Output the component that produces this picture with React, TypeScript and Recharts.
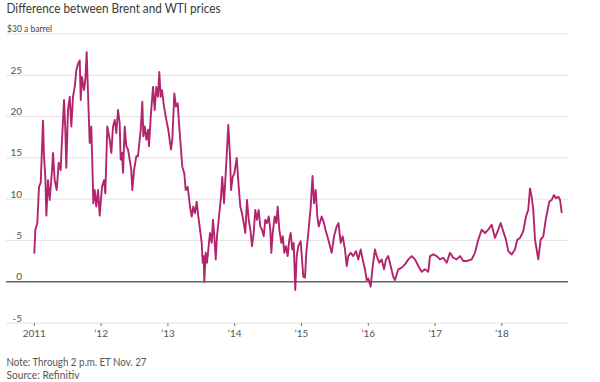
import React from "react";
import { LineChart, Line, XAxis, YAxis, CartesianGrid, ReferenceLine } from "recharts";

// decimal year of each reading
const years = [
  2011.0, 2011.015, 2011.045, 2011.07, 2011.096, 2011.13, 2011.145, 2011.165, 2011.18, 2011.205,
  2011.23, 2011.265, 2011.28, 2011.305, 2011.335, 2011.365, 2011.395, 2011.405, 2011.445, 2011.464,
  2011.479, 2011.504, 2011.53, 2011.554, 2011.579, 2011.605, 2011.629, 2011.654, 2011.68, 2011.695,
  2011.714, 2011.744, 2011.763, 2011.784, 2011.804, 2011.829, 2011.853, 2011.868, 2011.883, 2011.904,
  2011.928, 2011.954, 2011.979, 2012.013, 2012.043, 2012.063, 2012.093, 2012.129, 2012.153, 2012.178,
  2012.204, 2012.228, 2012.253, 2012.278, 2012.293, 2012.313, 2012.328, 2012.353, 2012.377, 2012.403,
  2012.428, 2012.452, 2012.467, 2012.493, 2012.527, 2012.552, 2012.593, 2012.617, 2012.632, 2012.653,
  2012.677, 2012.702, 2012.717, 2012.743, 2012.777, 2012.802, 2012.826, 2012.852, 2012.871, 2012.892,
  2012.912, 2012.942, 2012.976, 2013.006, 2013.046, 2013.066, 2013.096, 2013.121, 2013.147, 2013.166,
  2013.196, 2013.216, 2013.246, 2013.266, 2013.296, 2013.331, 2013.356, 2013.38, 2013.406, 2013.431,
  2013.455, 2013.481, 2013.506, 2013.521, 2013.536, 2013.545, 2013.566, 2013.585, 2013.605, 2013.63,
  2013.656, 2013.675, 2013.695, 2013.716, 2013.735, 2013.765, 2013.795, 2013.814, 2013.84, 2013.865,
  2013.885, 2013.904, 2013.93, 2013.945, 2013.97, 2013.994, 2014.03, 2014.06, 2014.084, 2014.109,
  2014.135, 2014.159, 2014.184, 2014.21, 2014.234, 2014.259, 2014.284, 2014.308, 2014.334, 2014.359,
  2014.383, 2014.409, 2014.434, 2014.458, 2014.484, 2014.509, 2014.533, 2014.548, 2014.569, 2014.599,
  2014.623, 2014.644, 2014.668, 2014.698, 2014.719, 2014.743, 2014.768, 2014.793, 2014.817, 2014.838,
  2014.862, 2014.883, 2014.907, 2014.928, 2014.952, 2014.988, 2015.027, 2015.052, 2015.072, 2015.102,
  2015.138, 2015.165, 2015.187, 2015.213, 2015.237, 2015.259, 2015.302, 2015.337, 2015.359, 2015.401,
  2015.452, 2015.487, 2015.527, 2015.554, 2015.587, 2015.617, 2015.651, 2015.677, 2015.701, 2015.737,
  2015.775, 2015.816, 2015.85, 2015.886, 2015.916, 2015.951, 2015.976, 2016.0, 2016.036, 2016.066,
  2016.1, 2016.126, 2016.165, 2016.201, 2016.235, 2016.265, 2016.299, 2016.335, 2016.374, 2016.4,
  2016.449, 2016.5, 2016.549, 2016.599, 2016.65, 2016.699, 2016.749, 2016.799, 2016.849, 2016.898,
  2016.924, 2016.973, 2017.024, 2017.073, 2017.123, 2017.174, 2017.223, 2017.272, 2017.323, 2017.373,
  2017.422, 2017.473, 2017.548, 2017.597, 2017.647, 2017.698, 2017.747, 2017.796, 2017.847, 2017.897,
  2017.946, 2017.982, 2018.021, 2018.061, 2018.096, 2018.147, 2018.196, 2018.231, 2018.271, 2018.32,
  2018.361, 2018.395, 2018.421, 2018.446, 2018.47, 2018.496, 2018.521, 2018.545, 2018.581, 2018.62,
  2018.656, 2018.686, 2018.71, 2018.746, 2018.781, 2018.811, 2018.846, 2018.871, 2018.897,
];

// Brent minus WTI, $ a barrel
const spread = [
  3.4, 6.3, 7.1, 11.5, 12.0, 19.5, 15.2, 12.7, 8.0, 12.3,
  9.9, 13.5, 15.6, 12.3, 11.1, 14.4, 13.5, 15.6, 22.0, 18.4,
  13.8, 20.8, 22.4, 18.8, 22.4, 23.6, 25.6, 26.4, 26.8, 22.0,
  24.8, 23.2, 24.4, 27.8, 22.8, 16.8, 18.8, 14.4, 9.5, 11.1,
  9.1, 11.1, 8.0, 11.5, 12.3, 10.7, 18.8, 17.2, 15.6, 18.8,
  19.6, 18.0, 20.8, 19.2, 14.8, 15.6, 13.2, 18.8, 16.4, 16.0,
  14.8, 13.5, 11.1, 13.5, 15.2, 15.2, 18.4, 21.8, 17.6, 18.8,
  17.2, 18.4, 16.4, 20.0, 23.6, 20.8, 23.6, 22.4, 25.4, 22.4,
  23.2, 21.2, 19.6, 18.4, 16.0, 17.2, 22.8, 21.2, 21.6, 19.2,
  16.0, 13.9, 13.1, 11.1, 11.5, 9.1, 7.9, 9.1, 8.3, 9.7,
  7.9, 6.3, 4.7, 2.3, 3.1, 0.0, 3.5, 2.3, 3.9, 5.9,
  4.7, 7.5, 5.5, 2.7, 5.5, 7.9, 10.3, 12.7, 9.5, 13.1,
  16.0, 19.0, 15.2, 11.1, 12.7, 13.1, 15.0, 11.5, 9.1, 8.3,
  7.1, 5.9, 9.9, 7.5, 6.3, 4.3, 5.9, 8.7, 7.5, 8.7,
  6.7, 6.3, 5.5, 7.5, 7.1, 7.9, 6.3, 3.5, 5.9, 7.9,
  7.1, 9.1, 6.3, 4.7, 5.5, 3.5, 4.3, 3.1, 5.1, 5.9,
  3.9, 4.7, -1.0, 3.1, 4.3, 4.9, 0.6, 0.5, 3.5, 5.9,
  9.1, 12.8, 9.5, 11.1, 7.9, 6.7, 7.9, 7.1, 6.3, 5.1,
  3.5, 5.5, 6.7, 7.1, 4.7, 5.5, 3.9, 1.9, 3.1, 3.5,
  3.1, 3.7, 2.7, 3.9, 2.7, 1.5, 0.2, 0.4, -0.6, 1.9,
  3.9, 3.1, 2.3, 2.7, 1.5, 2.7, 3.1, 1.9, 0.6, 0.2,
  1.5, 1.7, 2.1, 2.7, 3.1, 2.7, 1.9, 1.2, 1.5, 1.2,
  3.1, 3.3, 3.1, 2.7, 2.9, 2.3, 3.5, 2.9, 2.7, 3.1,
  2.5, 2.5, 2.7, 3.5, 5.1, 6.3, 5.9, 6.3, 6.9, 5.3,
  6.3, 7.1, 6.1, 5.1, 3.7, 3.3, 3.9, 5.1, 5.3, 6.1,
  7.9, 8.7, 11.3, 10.3, 8.7, 5.1, 3.9, 2.7, 5.1, 5.5,
  7.5, 8.7, 9.7, 9.9, 10.5, 10.1, 10.3, 9.9, 8.3,
];

const yearTicks = [2011, 2012, 2013, 2014, 2015, 2016, 2017, 2018];
const valueTicks = [-5, 0, 5, 10, 15, 20, 25, 30];

const data = years.map((t, i) => ({ t, v: spread[i] }));

const FONT = "Lato, 'Open Sans', sans-serif";

// y labels sit just above their gridline at the left edge
function YTick(props: any) {
  const { y, payload } = props;
  if (payload.value === 30) {
    return (
      <text x={7} y={y - 2} fontSize={10} fill="#444" fontFamily={FONT} textLength={45} lengthAdjust="spacingAndGlyphs">
        $30 a barrel
      </text>
    );
  }
  return (
    <text x={22} y={y - 1.5} fontSize={10} fill="#555" fontFamily={FONT} textAnchor="end">
      {payload.value}
    </text>
  );
}

function XTick(props: any) {
  const { x, y, payload } = props;
  const label = payload.value === 2011 ? "2011" : "\u2019" + String(payload.value).slice(2);
  return (
    <g>
      <line x1={x} x2={x} y1={y} y2={y + 3} stroke="#777" strokeWidth={1} />
      <text x={x} y={y + 14} fontSize={10} fill="#555" fontFamily={FONT} textAnchor="middle">
        {label}
      </text>
    </g>
  );
}

export default function App() {
  return (
    <div style={{ position: "absolute", left: 0, top: 0, width: 600, height: 382, background: "#fff" }}>
      <LineChart width={600} height={382} data={data} margin={{ top: 34, right: 32, bottom: 37, left: 5 }}>
        <CartesianGrid vertical={false} stroke="#e3e3e3" />
        <XAxis
          dataKey="t"
          type="number"
          domain={[2010.576, 2018.99]}
          ticks={yearTicks}
          axisLine={false}
          tickLine={false}
          tickSize={0}
          tickMargin={0}
          height={22}
          tick={<XTick />}
          allowDataOverflow
        />
        <YAxis
          type="number"
          domain={[-5, 30]}
          ticks={valueTicks}
          width={1}
          axisLine={false}
          tickLine={false}
          tick={<YTick />}
          interval={0}
        />
        <ReferenceLine y={0} stroke="#666" strokeWidth={1.5} />
        <Line
          type="linear"
          dataKey="v"
          stroke="#b3246f"
          strokeWidth={1.9}
          strokeLinejoin="round"
          dot={false}
          isAnimationActive={false}
        />
      </LineChart>
      <svg width={600} height={382} style={{ position: "absolute", left: 0, top: 0, pointerEvents: "none" }}>
        <text x={6.5} y={13} fontSize={13} fill="#3a3a3a" fontFamily={FONT} textLength={214} lengthAdjust="spacingAndGlyphs">
          Difference between Brent and WTI prices
        </text>
        <text x={6.5} y={366} fontSize={11} fill="#555" fontFamily={FONT} textLength={140} lengthAdjust="spacingAndGlyphs">
          Note: Through 2 p.m. ET Nov. 27
        </text>
        <text x={6.5} y={379} fontSize={11} fill="#555" fontFamily={FONT} textLength={73} lengthAdjust="spacingAndGlyphs">
          Source: Refinitiv
        </text>
      </svg>
    </div>
  );
}
